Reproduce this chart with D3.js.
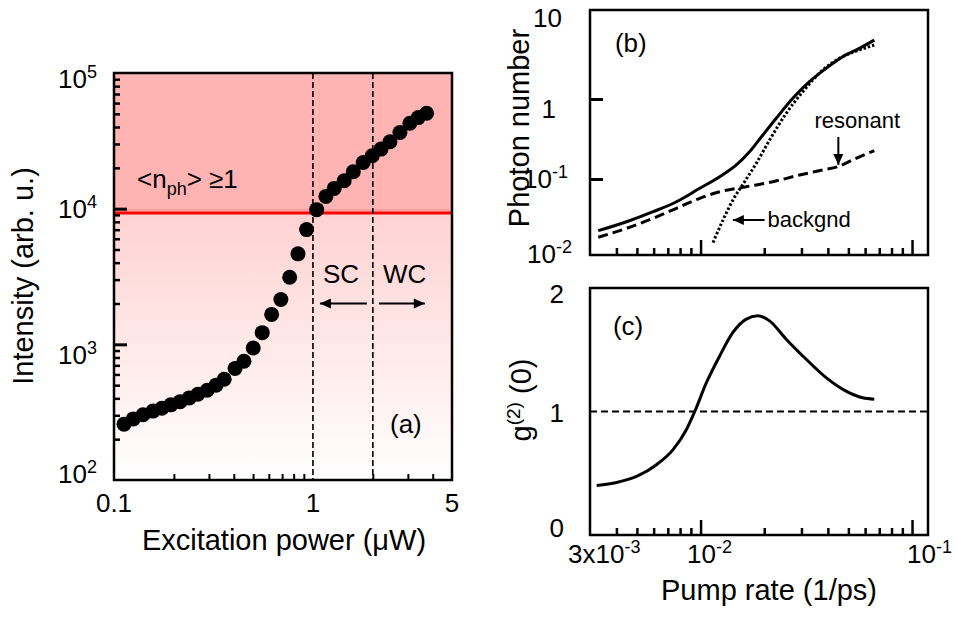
<!DOCTYPE html>
<html><head><meta charset="utf-8">
<script src="https://cdn.jsdelivr.net/npm/d3@7"></script>
<style>body{margin:0;background:#fff}svg{display:block}text{font-family:"Liberation Sans",Arial,Helvetica,sans-serif;fill:#000}</style>
</head><body>
<script>
// ---------- DATA ----------
// Panel (a): intensity vs excitation power
const powerA = [0.1123,0.125,0.140,0.157,0.174,0.193,0.215,0.239,0.264,0.294,0.326,0.358,0.406,0.450,0.501,0.556,0.620,0.690,0.764,0.841,0.929,1.044,1.162,1.279,1.436,1.595,1.790,1.986,2.198,2.438,2.737,3.071,3.383,3.727];
const intensityA = [258,282,303,322,338,358,378,403,429,459,500,553,663,750,939,1219,1662,2142,3126,4645,7010,9830,12310,14100,16070,18710,21900,24530,27480,31110,36390,42660,46930,50560];
const thresholdA = 9300;           // <n_ph> = 1 level
const regimeBounds = [1, 2];       // SC / WC boundaries (uW)
const xTicksA = [0.1, 1, 5];
const xTickLabelsA = ["0.1", "1", "5"];
const yTicksA = [1e2, 1e3, 1e4, 1e5];
const yTickExpA = ["2", "3", "4", "5"];

// Panel (b): photon number vs pump rate
const totalX = [0.003283,0.004470,0.005966,0.007692,0.009908,0.012314,0.014764,0.017051,0.019710,0.022795,0.027296,0.032720,0.039236,0.046974,0.056315,0.066298];
const totalY = [0.0226,0.0292,0.039,0.052,0.0765,0.107,0.150,0.219,0.355,0.574,1.02,1.65,2.42,3.38,4.30,5.46];
const resX = [0.003283,0.004470,0.005966,0.007692,0.009908,0.012314,0.016455,0.021968,0.029363,0.037813,0.044475,0.054325,0.066298];
const resY = [0.01867,0.0242,0.0323,0.0430,0.0574,0.0694,0.0801,0.0925,0.112,0.1296,0.1425,0.1815,0.226];
const bgX = [0.011446,0.012762,0.014223,0.016151,0.018342,0.021198,0.025408,0.030413,0.037813,0.046974,0.056315,0.066298];
const bgY = [0.016,0.0307,0.0546,0.0925,0.157,0.307,0.662,1.23,2.30,3.38,4.10,4.73];
const yTicksB = [10, 1, 0.1, 0.01];

// Panel (c): g2(0) vs pump rate
const g2X = [0.003226,0.004009,0.004982,0.006188,0.007413,0.008575,0.009384,0.010656,0.012314,0.014223,0.016455,0.018664,0.021198,0.025408,0.031572,0.039236,0.048737,0.058398,0.066298];
const g2Y = [0.40,0.425,0.474,0.569,0.691,0.854,1.0,1.233,1.45,1.64,1.748,1.775,1.734,1.585,1.423,1.274,1.165,1.111,1.10];
const yTicksC = [0, 1, 2];
const xTicksBC = [0.003, 0.01, 0.1];

// ---------- SETUP ----------
const W = 956, H = 623;
const svg = d3.select("body").append("svg").attr("width", W).attr("height", H);
const FS = 26, FT = 29;

function supLabel(g, x, y, base, sup, anchor) {
  const t = g.append("text").attr("x", x).attr("y", y).attr("text-anchor", anchor).style("font-size", FS + "px");
  t.append("tspan").text(base);
  if (sup) t.append("tspan").attr("dy", -10).style("font-size", "18px").text(sup);
  return t;
}
function arrow(g, x1, y1, x2, y2) {
  g.append("line").attr("x1", x1).attr("y1", y1).attr("x2", x2).attr("y2", y2)
    .attr("stroke", "#000").attr("stroke-width", 2);
  const a = Math.atan2(y2 - y1, x2 - x1), L = 11, w = 5;
  const p = [[x2, y2],
    [x2 - L * Math.cos(a) + w * Math.sin(a), y2 - L * Math.sin(a) - w * Math.cos(a)],
    [x2 - L * Math.cos(a) - w * Math.sin(a), y2 - L * Math.sin(a) + w * Math.cos(a)]];
  g.append("path").attr("d", "M" + p.join("L") + "Z").attr("fill", "#000");
}
function styleAxis(sel, sw) {
  sel.select(".domain").remove();
  sel.selectAll(".tick line").attr("stroke", "#000").attr("stroke-width", sw);
  sel.selectAll(".tick text").remove();
}
function minorLog(lo, hi) {
  const out = [];
  for (let e = Math.floor(Math.log10(lo)); e <= Math.ceil(Math.log10(hi)); e++)
    for (let m = 2; m <= 9; m++) { const v = m * Math.pow(10, e); if (v > lo * 1.0001 && v < hi * 0.9999) out.push(v); }
  return out;
}

// ---------- PANEL (a) ----------
const xA = d3.scaleLog().domain([0.1, 5]).range([114, 452]);
const yA = d3.scaleLog().domain([100, 1e5]).range([480, 73]);
const gA = svg.append("g");
const defs = svg.append("defs");
const grad = defs.append("linearGradient").attr("id", "gradA").attr("x1", 0).attr("y1", 0).attr("x2", 0).attr("y2", 1);
grad.append("stop").attr("offset", "0%").attr("stop-color", "#ffd2d2");
grad.append("stop").attr("offset", "100%").attr("stop-color", "#ffffff");

gA.append("rect").attr("x", xA(0.1)).attr("y", yA(1e5)).attr("width", xA(5) - xA(0.1))
  .attr("height", yA(thresholdA) - yA(1e5)).attr("fill", "#ffb3b3");
gA.append("rect").attr("x", xA(0.1)).attr("y", yA(thresholdA)).attr("width", xA(5) - xA(0.1))
  .attr("height", yA(100) - yA(thresholdA)).attr("fill", "url(#gradA)");
gA.append("line").attr("x1", xA(0.1)).attr("x2", xA(5)).attr("y1", yA(thresholdA) - 3).attr("y2", yA(thresholdA) - 3)
  .attr("stroke", "#ff8f8f").attr("stroke-width", 1);
gA.append("line").attr("x1", xA(0.1)).attr("x2", xA(5)).attr("y1", yA(thresholdA)).attr("y2", yA(thresholdA))
  .attr("stroke", "#ff0000").attr("stroke-width", 3);

regimeBounds.forEach(b => {
  gA.append("line").attr("x1", xA(b)).attr("x2", xA(b)).attr("y1", yA(1e5)).attr("y2", yA(100))
    .attr("stroke", "#000").attr("stroke-width", 1.6).attr("stroke-dasharray", "6,3");
});

// ticks
gA.append("g").attr("transform", `translate(${xA(0.1)},0)`).call(d3.axisLeft(yA).tickValues([1e3, 1e4]).tickSize(-13)).call(s => styleAxis(s, 3));
gA.append("g").attr("transform", `translate(${xA(0.1)},0)`).call(d3.axisLeft(yA).tickValues(minorLog(100, 1e5)).tickSize(-6)).call(s => styleAxis(s, 2.5));
gA.append("g").attr("transform", `translate(0,${yA(100)})`).call(d3.axisBottom(xA).tickValues(minorLog(0.1, 5)).tickSize(-6)).call(s => styleAxis(s, 2));

// frame
gA.append("rect").attr("x", xA(0.1)).attr("y", yA(1e5)).attr("width", xA(5) - xA(0.1)).attr("height", yA(100) - yA(1e5))
  .attr("fill", "none").attr("stroke", "#000").attr("stroke-width", 2.5);

// points
gA.selectAll("circle.pt").data(powerA.map((p, i) => [p, intensityA[i]])).join("circle")
  .attr("class", "pt").attr("cx", d => xA(d[0])).attr("cy", d => yA(d[1])).attr("r", 7.5).attr("fill", "#000");

// tick labels
const yLabOffA = [3, 20, 9, 14.5];
yTicksA.forEach((v, i) => supLabel(gA, 97, yA(v) + yLabOffA[i], "10", yTickExpA[i], "end"));
xTicksA.forEach((v, i) => gA.append("text").attr("x", xA(v)).attr("y", 512).attr("text-anchor", "middle").style("font-size", FS + "px").text(xTickLabelsA[i]));

// annotations
const nt = gA.append("text").attr("x", xA(0.1305)).attr("y", yA(14260)).style("font-size", FS + "px");
nt.append("tspan").text("<n");
nt.append("tspan").attr("dy", 7).style("font-size", "18px").text("ph");
nt.append("tspan").attr("dy", -7).text("> \u22651");
gA.append("text").attr("x", xA(1.123)).attr("y", yA(2809)).style("font-size", FS + "px").text("SC");
gA.append("text").attr("x", xA(2.248)).attr("y", yA(2809)).style("font-size", FS + "px").text("WC");
arrow(gA, xA(1.866), yA(2000), xA(1.084), yA(2000));
arrow(gA, xA(2.146), yA(2000), xA(3.65), yA(2000));
gA.append("text").attr("x", xA(2.44)).attr("y", yA(221.6)).style("font-size", FS + "px").text("(a)");

// axis titles
gA.append("text").attr("x", 284).attr("y", 550).attr("text-anchor", "middle").style("font-size", FT + "px").text("Excitation power (\u03bcW)");
gA.append("text").attr("transform", "translate(33,276) rotate(-90)").attr("text-anchor", "middle").style("font-size", FT + "px").text("Intensity (arb. u.)");

// ---------- SHARED X (b, c) ----------
const xBC = d3.scaleLog().domain([0.003, 0.119]).range([590, 928]);
const minorBC = minorLog(0.003, 0.119).filter(v => v > 0.0031);

// ---------- PANEL (b) ----------
const yB = d3.scaleLog().domain([0.01, 10]).range([259, 19]);
const topB = 10, botB = 255;
const gB = svg.append("g");
defs.append("clipPath").attr("id", "clipB").append("rect").attr("x", 590).attr("y", topB).attr("width", 338).attr("height", botB - topB);
gB.append("g").attr("transform", `translate(0,${botB})`).call(d3.axisBottom(xBC).tickValues([0.01, 0.1]).tickSize(-15)).call(s => styleAxis(s, 2.5));
gB.append("g").attr("transform", `translate(0,${botB})`).call(d3.axisBottom(xBC).tickValues(minorBC).tickSize(-7)).call(s => styleAxis(s, 2.5));
gB.append("g").attr("transform", "translate(590,0)").call(d3.axisLeft(yB).tickValues([1, 0.1]).tickSize(-13)).call(s => styleAxis(s, 3));
gB.append("rect").attr("x", 590).attr("y", topB).attr("width", 338).attr("height", botB - topB)
  .attr("fill", "none").attr("stroke", "#000").attr("stroke-width", 2.5);

const lineB = d3.line().x(d => xBC(d[0])).y(d => yB(d[1])).curve(d3.curveMonotoneX);
const cb = gB.append("g").attr("clip-path", "url(#clipB)");
cb.append("path").datum(totalX.map((x, i) => [x, totalY[i]])).attr("d", lineB)
  .attr("fill", "none").attr("stroke", "#000").attr("stroke-width", 3);
cb.append("path").datum(resX.map((x, i) => [x, resY[i]])).attr("d", lineB)
  .attr("fill", "none").attr("stroke", "#000").attr("stroke-width", 3).attr("stroke-dasharray", "10,5");
cb.append("path").datum(bgX.map((x, i) => [x, bgY[i]])).attr("d", lineB)
  .attr("fill", "none").attr("stroke", "#000").attr("stroke-width", 3).attr("stroke-dasharray", "2.5,2");

const yLabB = [{b: "10", s: "", dx: 562, dy: 8}, {b: "1", s: "", dx: 556, dy: 19}, {b: "10", s: "-1", dx: 568, dy: 9}, {b: "10", s: "-2", dx: 572, dy: 4}];
yTicksB.forEach((v, i) => supLabel(gB, yLabB[i].dx, yB(v) + yLabB[i].dy, yLabB[i].b, yLabB[i].s, "end"));

gB.append("text").attr("x", xBC(0.003936)).attr("y", yB(3.87)).style("font-size", FS + "px").text("(b)");
gB.append("text").attr("x", xBC(0.03455)).attr("y", yB(0.434)).style("font-size", "22px").text("resonant");
arrow(gB, xBC(0.04483), yB(0.335), xBC(0.04483), yB(0.15));
gB.append("text").attr("x", xBC(0.02074)).attr("y", yB(0.0251)).style("font-size", "22px").text("backgnd");
arrow(gB, xBC(0.02008), yB(0.0307), xBC(0.01422), yB(0.0307));
gB.append("text").attr("transform", "translate(529,128) rotate(-90)").attr("text-anchor", "middle").style("font-size", FT + "px").text("Photon number");

// ---------- PANEL (c) ----------
const yC = d3.scaleLinear().domain([0, 2]).range([535, 288]);
const gC = svg.append("g");
gC.append("g").attr("transform", `translate(0,${yC(0)})`).call(d3.axisBottom(xBC).tickValues([0.01, 0.1]).tickSize(-15)).call(s => styleAxis(s, 2.5));
gC.append("g").attr("transform", `translate(0,${yC(0)})`).call(d3.axisBottom(xBC).tickValues(minorBC).tickSize(-7)).call(s => styleAxis(s, 2.5));
gC.append("line").attr("x1", 590).attr("x2", 928).attr("y1", yC(1)).attr("y2", yC(1))
  .attr("stroke", "#000").attr("stroke-width", 2).attr("stroke-dasharray", "7,4");
gC.append("rect").attr("x", 590).attr("y", yC(2)).attr("width", 338).attr("height", yC(0) - yC(2))
  .attr("fill", "none").attr("stroke", "#000").attr("stroke-width", 2.5);
const lineC = d3.line().x(d => xBC(d[0])).y(d => yC(d[1])).curve(d3.curveMonotoneX);
gC.append("path").datum(g2X.map((x, i) => [x, g2Y[i]])).attr("d", lineC)
  .attr("fill", "none").attr("stroke", "#000").attr("stroke-width", 3);

const yLabOffC = [2, 10.5, 15];
yTicksC.forEach((v, i) => gC.append("text").attr("x", 564).attr("y", yC(v) + yLabOffC[i]).attr("text-anchor", "end").style("font-size", FS + "px").text(String(v)));

// x tick labels (shared)
const xLabBC = [{b: "3x10", s: "-3", x0: 568}, {b: "10", s: "-2", x0: 687}, {b: "10", s: "-1", x0: 907}];
xLabBC.forEach(d => supLabel(gC, d.x0, 563, d.b, d.s, "start"));

gC.append("text").attr("x", xBC(0.00385)).attr("y", yC(1.62)).style("font-size", FS + "px").text("(c)");
const gt = gC.append("text").attr("transform", "translate(531,400) rotate(-90)").attr("text-anchor", "middle").style("font-size", FT + "px");
gt.append("tspan").text("g");
gt.append("tspan").attr("dy", -11).style("font-size", "19px").text("(2)");
gt.append("tspan").attr("dy", 11).text(" (0)");
gC.append("text").attr("x", 769).attr("y", 600).attr("text-anchor", "middle").style("font-size", FT + "px").text("Pump rate (1/ps)");
</script>
</body></html>
